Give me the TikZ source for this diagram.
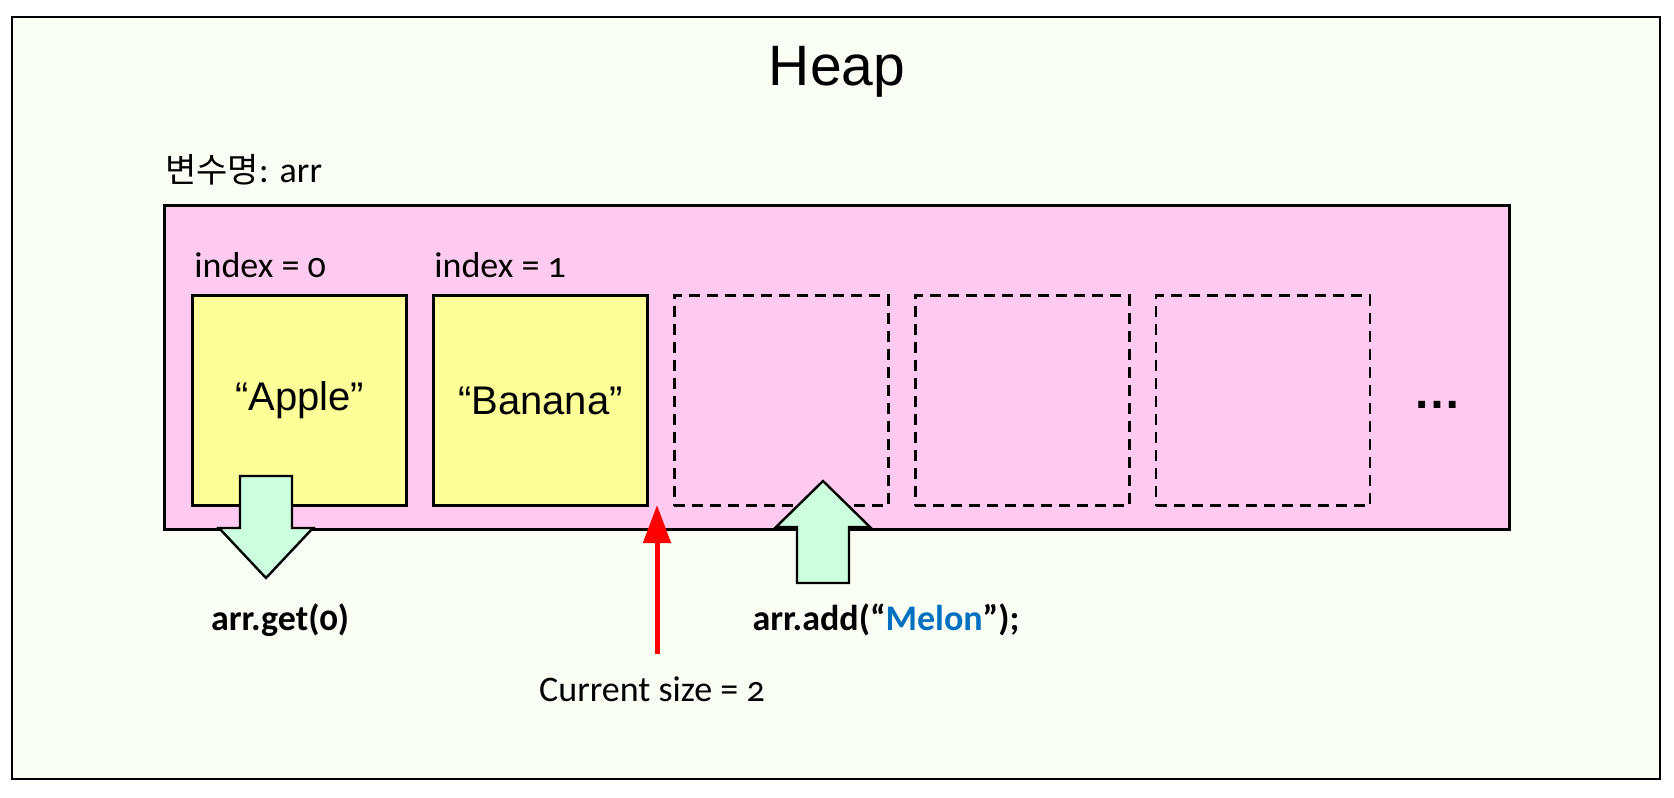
\documentclass[tikz,border=0pt]{standalone}
\usepackage{fontspec}
\setmainfont{Liberation Sans}
\newfontfamily\lblfont[Numbers=OldStyle]{Carlito}
\newfontfamily\krfont{Noto Sans CJK KR}
\usetikzlibrary{arrows.meta, positioning}
\definecolor{heapBg}{HTML}{FAFFF5}
\definecolor{arrPink}{HTML}{FFCAF0}
\definecolor{cellYellow}{HTML}{FFFF99}
\definecolor{mintArrow}{HTML}{CCFFDD}
\definecolor{melonBlue}{HTML}{0070C0}
\tikzset{
  %% frames
  heapframe/.style = {draw=black, line width=1.2pt, fill=heapBg, inner sep=0pt},
  arrframe/.style  = {draw=black, line width=1.4pt, fill=arrPink, inner sep=0pt},
  %% array slots: filled ones and free ones
  cellfull/.style  = {draw=black, line width=1.5pt, fill=cellYellow,
                      minimum width=107pt, minimum height=105pt, inner sep=0pt,
                      font=\fontsize{20}{24}\selectfont},
  cellfree/.style  = {cellfull, fill=none, line width=1.4pt,
                      dash pattern=on 5.5pt off 3.5pt},
  %% text
  lbl/.style       = {font=\lblfont\fontsize{18}{21}\selectfont, inner sep=0pt},
  lblbold/.style   = {font=\lblfont\bfseries\fontsize{18}{21}\selectfont, inner sep=0pt},
  %% arrows
  blockarrow/.style = {draw=black, line width=1.2pt, fill=mintArrow, line join=miter},
  sizearrow/.style  = {-{Triangle[length=19pt, width=13.5pt]}, draw=red, line width=2.5pt},
}
\begin{document}
\begin{tikzpicture}[x=0.5pt, y=-0.5pt]
\useasboundingbox (0,0) rectangle (1674,797);

\node[heapframe, anchor=north west, minimum width=824pt, minimum height=381pt] (heap) at (11,16) {};
\node[font=\fontsize{28.5}{32}\selectfont, inner sep=0pt, anchor=base] (title) at (837,86) {Heap};

\node[lbl, anchor=base west] (varname) at (165,182) {{\krfont\fontsize{17}{20}\selectfont 변수명}: arr};
\node[arrframe, anchor=north west, minimum width=672.5pt, minimum height=162pt] (arr) at (163,204) {};

%% slots
\node[cellfull, anchor=north west] (c0) at (191,294) {“Apple”};
\node[cellfull, right=12pt of c0] (c1) {“Banana”};
\foreach \i [remember=\i as \j (initially 1)] in {2,3,4}
  \node[cellfree, right=12pt of c\j] (c\i) {};
\node[font=\bfseries\fontsize{24}{28}\selectfont, inner sep=0pt, anchor=base] (more) at (1437,408) {…};

\node[lbl, anchor=base west] (idx0) at (194,277) {index = 0};
\node[lbl, anchor=base west] (idx1) at (434,277) {index = 1};

%% get / add
\coordinate (gettip) at (266,578);
\draw[blockarrow] (gettip) -- ++(47,-50) -- ++(-21,0) -- ++(0,-52) -- ++(-52,0)
   -- ++(0,52) -- ++(-21,0) -- cycle;
\coordinate (addtip) at (823,481);
\draw[blockarrow] (addtip) -- ++(47,46) -- ++(-21,0) -- ++(0,56) -- ++(-52,0)
   -- ++(0,-56) -- ++(-21,0) -- cycle;

\node[lblbold, anchor=base] (getlbl) at (280,630) {arr.get(0)};
\node[lblbold, anchor=base] (addlbl) at (886,630) {arr.add(“\textcolor{melonBlue}{Melon}”);};

%% current size
\node[lbl, anchor=base] (sizelbl) at (652,701) {Current size = 2};
\coordinate (sizetail) at (657,654);
\coordinate (sizetip) at (657,505);
\draw[sizearrow] (sizetail) -- (sizetip);

\end{tikzpicture}
\end{document}
